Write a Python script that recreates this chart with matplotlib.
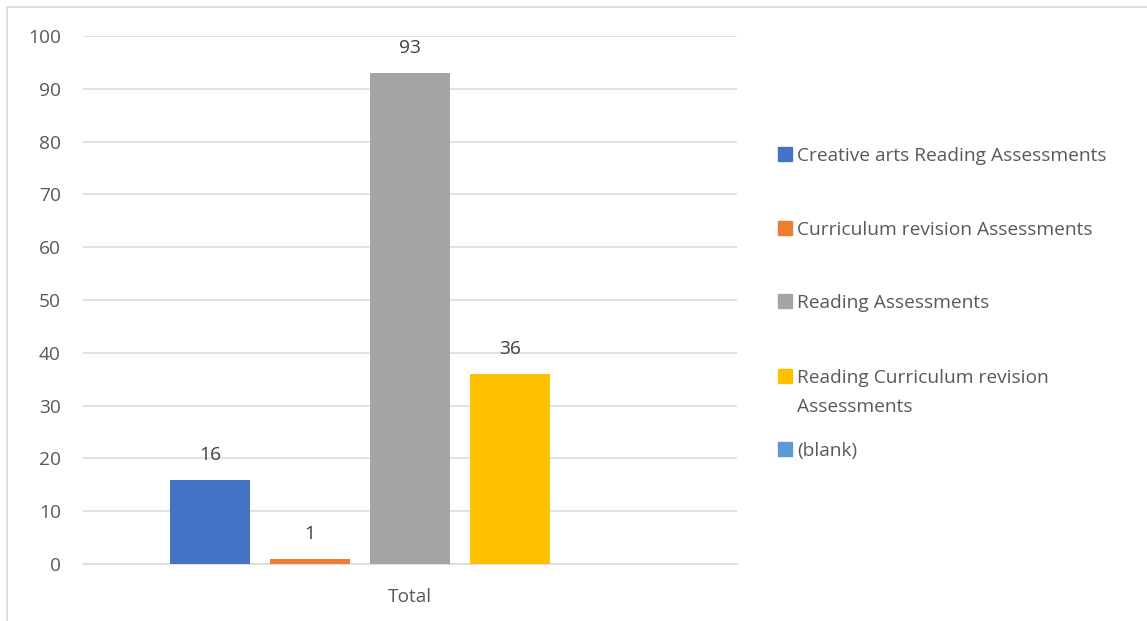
import matplotlib.pyplot as plt
from matplotlib.patches import Rectangle
import numpy as np

plt.rcParams['font.family'] = ['Open Sans', 'DejaVu Sans']

series = ['Creative arts Reading Assessments', 'Curriculum revision Assessments',
          'Reading Assessments', 'Reading Curriculum revision\nAssessments', '(blank)']
values = [16, 1, 93, 36, np.nan]
colors = ['#4472C4', '#ED7D31', '#A5A5A5', '#FFC000', '#5B9BD5']
category = 'Total'
yticks = list(range(0, 101, 10))

W, H = 1147, 621
textc = '#595959'
gridc = '#D9D9D9'
fs = 13.8

fig = plt.figure(figsize=(W / 100, H / 100), dpi=100)
ax = fig.add_axes([83 / W, 57 / H, 654 / W, 528 / H])

# chart outline
fig.patches.append(Rectangle((7 / W, -0.1), 1.2, 1.1 - 7 / H, transform=fig.transFigure,
                             fill=False, edgecolor=gridc, lw=1.2))

n = len(values)
pos = np.arange(n) - (n - 1) / 2
for x, v, c in zip(pos, values, colors):
    ax.bar(x, v, width=0.8, color=c, zorder=3)
    if not np.isnan(v):
        ax.annotate(f'{v:g}', (x, v), xytext=(0, 18), textcoords='offset points',
                    ha='center', va='center', fontsize=fs, color='#404040')

ax.set_xlim(-3.27, 3.27)
ax.set_ylim(0, 100)
ax.set_yticks(yticks)
ax.set_xticks([0])
ax.set_xticklabels([category])
ax.tick_params(axis='both', length=0, labelsize=fs, labelcolor=textc)
ax.tick_params(axis='y', pad=16)
ax.tick_params(axis='x', pad=17)
ax.grid(axis='y', color=gridc, lw=1.1, zorder=0)
for s in ['top', 'right', 'left']:
    ax.spines[s].set_visible(False)
ax.spines['bottom'].set_color(gridc)
ax.spines['bottom'].set_linewidth(1.1)

# legend, laid out like the spreadsheet one
leg_y = [154, 228, 301, 376, 449]
for lab, c, y in zip(series, colors, leg_y):
    fig.patches.append(Rectangle((778 / W, 1 - (y + 7) / H), 14 / W, 14 / H,
                                 transform=fig.transFigure, color=c))
    fig.text(797 / W, 1 - (y - 7) / H, lab, ha='left', va='top', fontsize=fs,
             color=textc, linespacing=1.75)

fig.savefig('out.png', dpi=100)
